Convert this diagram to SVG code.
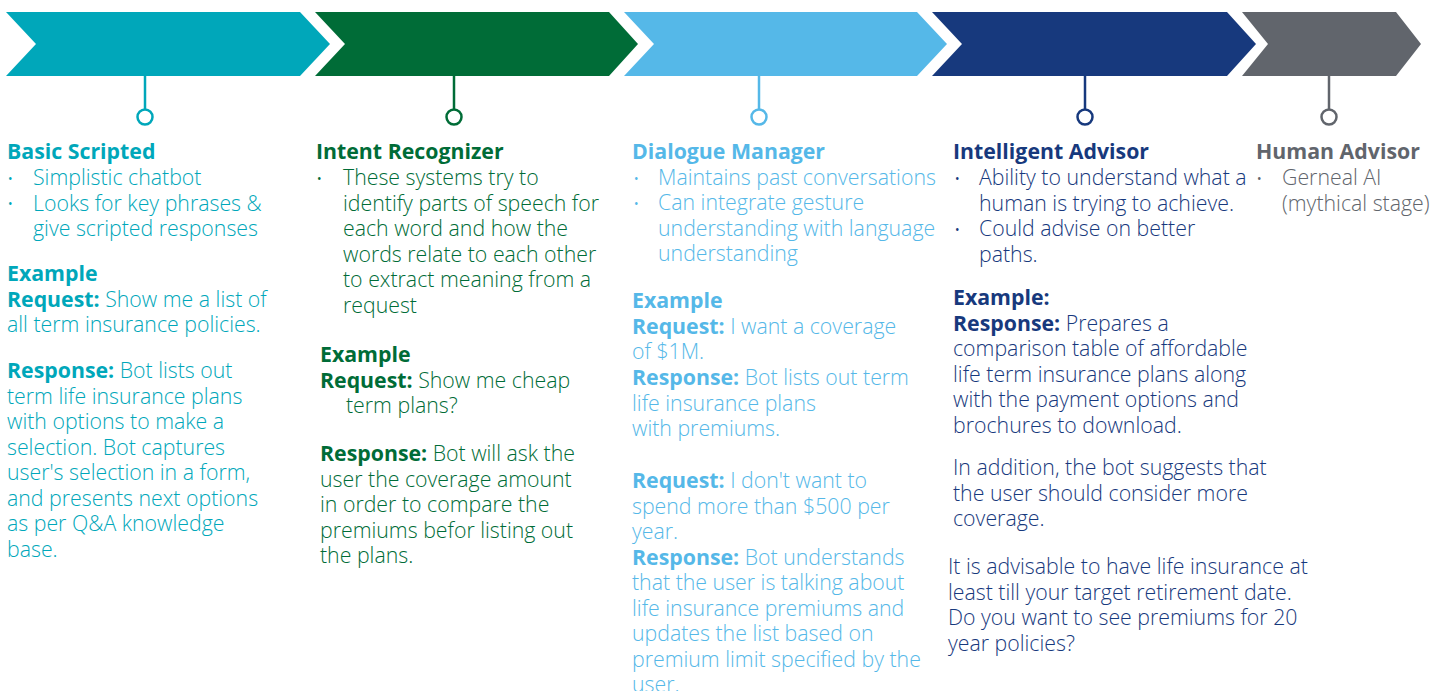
<svg xmlns="http://www.w3.org/2000/svg" width="1444" height="691" viewBox="0 0 1444 691">
<style>
text{font-family:"Open Sans","Noto Sans","Liberation Sans",sans-serif;font-size:21.3px;font-weight:300}
.t{font-weight:700}
.b{font-weight:700}
.dot{font-size:12px;font-weight:400}
.c1{fill:#00A7BA}.c2{fill:#006C37}.c3{fill:#55B8E8}.c4{fill:#17397D}.c5{fill:#61656C}
.s1{stroke:#00A7BA}.s2{stroke:#006C37}.s3{stroke:#55B8E8}.s4{stroke:#17397D}.s5{stroke:#61656C}
.ln{stroke-width:2.5;fill:none}
.ring{stroke-width:2.5;fill:#fff}
</style>
<g id="stage1">
<path class="c1" d="M6,12 L300,12 L330,44 L300,76 L6,76 L36,44 Z"/>
<text class="c1"><tspan class="t" x="7" y="159">Basic Scripted</tspan></text>
<text class="c1 dot" x="8" y="183">•</text><text class="c1 dot" x="8" y="208">•</text>
<text class="c1"><tspan x="33" y="185">Simplistic chatbot</tspan><tspan x="33" y="210.5">Looks for key phrases &amp;</tspan><tspan x="33" y="236">give scripted responses</tspan></text>
<text class="c1"><tspan class="b" x="7" y="281">Example</tspan><tspan class="b" x="7" y="306.5">Request:</tspan><tspan> Show me a list of</tspan><tspan x="7" y="332">all term insurance policies.</tspan><tspan class="b" x="7" y="378">Response:</tspan><tspan> Bot lists out</tspan><tspan x="7" y="403.5">term life insurance plans</tspan><tspan x="7" y="429">with options to make a</tspan><tspan x="7" y="454.5">selection. Bot captures</tspan><tspan x="7" y="480">user's selection in a form,</tspan><tspan x="7" y="505.5">and presents next options</tspan><tspan x="7" y="531">as per Q&amp;A knowledge</tspan><tspan x="7" y="556.5">base.</tspan></text>
</g>
<g id="stage2">
<path class="c2" d="M315,12 L609,12 L638,44 L609,76 L315,76 L345,44 Z"/>
<text class="c2"><tspan class="t" x="316" y="159">Intent Recognizer</tspan></text>
<text class="c2 dot" x="317" y="183">•</text>
<text class="c2"><tspan x="343" y="185">These systems try to</tspan><tspan x="343" y="210.5">identify parts of speech for</tspan><tspan x="343" y="236">each word and how the</tspan><tspan x="343" y="261.5">words relate to each other</tspan><tspan x="343" y="287">to extract meaning from a</tspan><tspan x="343" y="312.5">request</tspan></text>
<text class="c2"><tspan class="b" x="320" y="362">Example</tspan><tspan class="b" x="320" y="387.5">Request:</tspan><tspan> Show me cheap</tspan><tspan x="346" y="413">term plans?</tspan><tspan class="b" x="320" y="461">Response:</tspan><tspan> Bot will ask the</tspan><tspan x="320" y="486.5">user the coverage amount</tspan><tspan x="320" y="512">in order to compare the</tspan><tspan x="320" y="537.5">premiums befor listing out</tspan><tspan x="320" y="563">the plans.</tspan></text>
</g>
<g id="stage3">
<path class="c3" d="M624,12 L917,12 L947,44 L917,76 L624,76 L654,44 Z"/>
<text class="c3"><tspan class="t" x="632" y="159">Dialogue Manager</tspan></text>
<text class="c3 dot" x="634" y="183">•</text><text class="c3 dot" x="634" y="208">•</text>
<text class="c3"><tspan x="658" y="184.5">Maintains past conversations</tspan><tspan x="658" y="210">Can integrate gesture</tspan><tspan x="658" y="235.5">understanding with language</tspan><tspan x="658" y="261">understanding</tspan></text>
<text class="c3"><tspan class="b" x="632" y="308">Example</tspan><tspan class="b" x="632" y="334">Request:</tspan><tspan> I want a coverage</tspan><tspan x="632" y="359">of $1M.</tspan><tspan class="b" x="632" y="385">Response:</tspan><tspan> Bot lists out term</tspan><tspan x="632" y="410.5">life insurance plans</tspan><tspan x="632" y="436">with premiums.</tspan><tspan class="b" x="632" y="488">Request:</tspan><tspan> I don't want to</tspan><tspan x="632" y="513.5">spend more than $500 per</tspan><tspan x="632" y="539">year.</tspan><tspan class="b" x="632" y="564.5">Response:</tspan><tspan> Bot understands</tspan><tspan x="632" y="590">that the user is talking about</tspan><tspan x="632" y="615.5">life insurance premiums and</tspan><tspan x="632" y="641">updates the list based on</tspan><tspan x="632" y="666.5">premium limit specified by the</tspan><tspan x="632" y="692">user.</tspan></text>
</g>
<g id="stage4">
<path class="c4" d="M932,12 L1227,12 L1256,44 L1227,76 L932,76 L962,44 Z"/>
<text class="c4"><tspan class="t" x="953" y="159">Intelligent Advisor</tspan></text>
<text class="c4 dot" x="955" y="183">•</text><text class="c4 dot" x="955" y="234">•</text>
<text class="c4"><tspan x="979" y="185">Ability to understand what a</tspan><tspan x="979" y="210.5">human is trying to achieve.</tspan><tspan x="979" y="236">Could advise on better</tspan><tspan x="979" y="261.5">paths.</tspan></text>
<text class="c4"><tspan class="b" x="953" y="305">Example:</tspan><tspan class="b" x="953" y="330.5">Response:</tspan><tspan> Prepares a</tspan><tspan x="953" y="356">comparison table of affordable</tspan><tspan x="953" y="381.5">life term insurance plans along</tspan><tspan x="953" y="407">with the payment options and</tspan><tspan x="953" y="432.5">brochures to download.</tspan><tspan x="953" y="475">In addition, the bot suggests that</tspan><tspan x="953" y="500.5">the user should consider more</tspan><tspan x="953" y="526">coverage.</tspan><tspan x="948" y="574">It is advisable to have life insurance at</tspan><tspan x="948" y="599.5">least till your target retirement date.</tspan><tspan x="948" y="625">Do you want to see premiums for 20</tspan><tspan x="948" y="650.5">year policies?</tspan></text>
</g>
<g id="stage5">
<path class="c5" d="M1242,12 L1396,12 L1421,44 L1396,76 L1242,76 L1268,44 Z"/>
<text class="c5"><tspan class="t" x="1256" y="159">Human Advisor</tspan></text>
<text class="c5 dot" x="1257" y="183">•</text>
<text class="c5"><tspan x="1282" y="185">Gerneal AI</tspan><tspan x="1282" y="210.5">(mythical stage)</tspan></text>
</g>
<g id="connectors">
<line class="ln s1" x1="145" y1="76" x2="145" y2="109"/><circle class="ring s1" cx="145" cy="117" r="7.5"/>
<line class="ln s2" x1="454" y1="76" x2="454" y2="109"/><circle class="ring s2" cx="454" cy="117" r="7.5"/>
<line class="ln s3" x1="759" y1="76" x2="759" y2="109"/><circle class="ring s3" cx="759" cy="117" r="7.5"/>
<line class="ln s4" x1="1085" y1="76" x2="1085" y2="109"/><circle class="ring s4" cx="1085" cy="117" r="7.5"/>
<line class="ln s5" x1="1329" y1="76" x2="1329" y2="109"/><circle class="ring s5" cx="1329" cy="117" r="7.5"/>
</g>
</svg>
